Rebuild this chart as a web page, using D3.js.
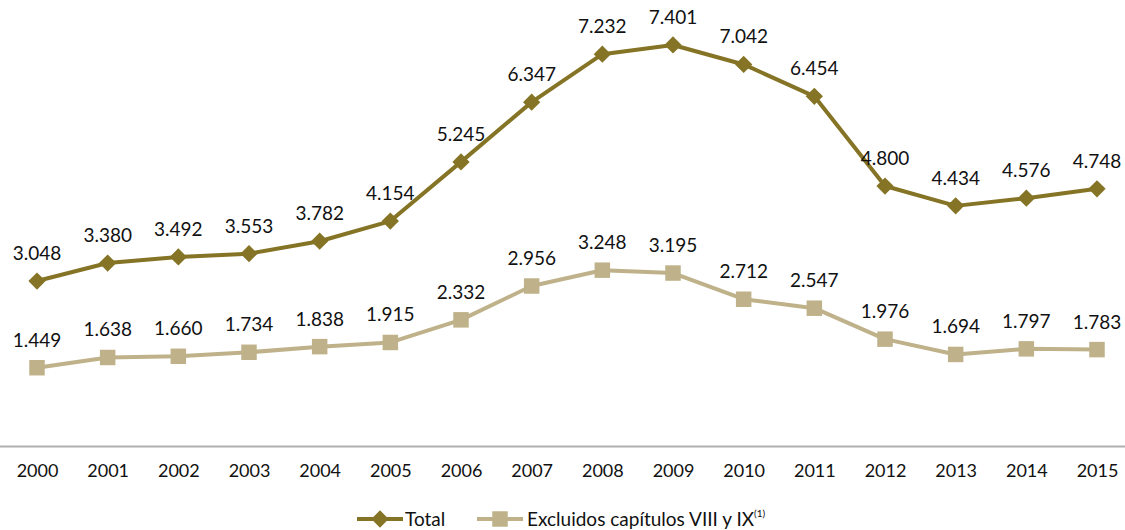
<!DOCTYPE html>
<html><head><meta charset="utf-8">
<script src="https://cdn.jsdelivr.net/npm/d3@7"></script>
<style>body{margin:0;background:#fff}svg{display:block}text{font-family:Lato,"Open Sans",sans-serif;fill:#111}</style>
</head><body><svg id="c" width="1125" height="530"></svg>
<script>
const years = ["2000","2001","2002","2003","2004","2005","2006","2007","2008","2009","2010","2011","2012","2013","2014","2015"];
const total = [3.048,3.380,3.492,3.553,3.782,4.154,5.245,6.347,7.232,7.401,7.042,6.454,4.800,4.434,4.576,4.748];
const excl = [1.449,1.638,1.660,1.734,1.838,1.915,2.332,2.956,3.248,3.195,2.712,2.547,1.976,1.694,1.797,1.783];
const seriesNames = ["Total","Excluidos capítulos VIII y IX"];
const colors = ["#857425","#bfb28a"];

const svg = d3.select("#c");
const x = d3.scalePoint().domain(years).range([37,1097]);
const y = d3.scaleLinear().domain([0,8]).range([446.3,12.5]);
const fmt = v => v.toFixed(3);

svg.append("line").attr("x1",0).attr("x2",1125).attr("y1",446.5).attr("y2",446.5)
  .attr("stroke","#b0b0b0").attr("stroke-width",2);

const xa = svg.append("g").attr("transform","translate(0,446)")
  .call(d3.axisBottom(x).tickSize(0).tickPadding(18));
xa.select(".domain").remove();
xa.selectAll("text").attr("font-size",18).attr("font-family","Lato,sans-serif").attr("fill","#111");

const line = d3.line().x((d,i)=>x(years[i])).y(d=>y(d));
const diamond = d3.symbol().type(d3.symbolDiamond2).size(190);
const square = d3.symbol().type(d3.symbolSquare).size(240);

[[excl,1,square],[total,0,diamond]].forEach(([data,k,sym])=>{
  svg.append("path").datum(data).attr("d",line).attr("fill","none")
    .attr("stroke",colors[k]).attr("stroke-width",4).attr("stroke-linejoin","round");
  svg.append("g").selectAll("path").data(data).join("path")
    .attr("d",sym).attr("fill",colors[k])
    .attr("transform",(d,i)=>`translate(${x(years[i])},${y(d)})`);
  svg.append("g").selectAll("text").data(data).join("text")
    .attr("x",(d,i)=>x(years[i])).attr("y",d=>y(d)-21)
    .attr("text-anchor","middle").attr("font-size",19).text(fmt);
});

// legend
const lg = svg.append("g");
lg.append("line").attr("x1",357).attr("x2",403).attr("y1",519).attr("y2",519).attr("stroke",colors[0]).attr("stroke-width",4);
lg.append("path").attr("d",diamond).attr("fill",colors[0]).attr("transform","translate(380,519)");
lg.append("text").attr("x",405).attr("y",526).attr("font-size",19).text(seriesNames[0]);
lg.append("line").attr("x1",477).attr("x2",523).attr("y1",519).attr("y2",519).attr("stroke",colors[1]).attr("stroke-width",4);
lg.append("path").attr("d",square).attr("fill",colors[1]).attr("transform","translate(500,519)");
const t2 = lg.append("text").attr("x",527).attr("y",526).attr("font-size",19).text(seriesNames[1]);
t2.append("tspan").attr("dy",-9).attr("font-size",10).text("(1)");
</script></body></html>
